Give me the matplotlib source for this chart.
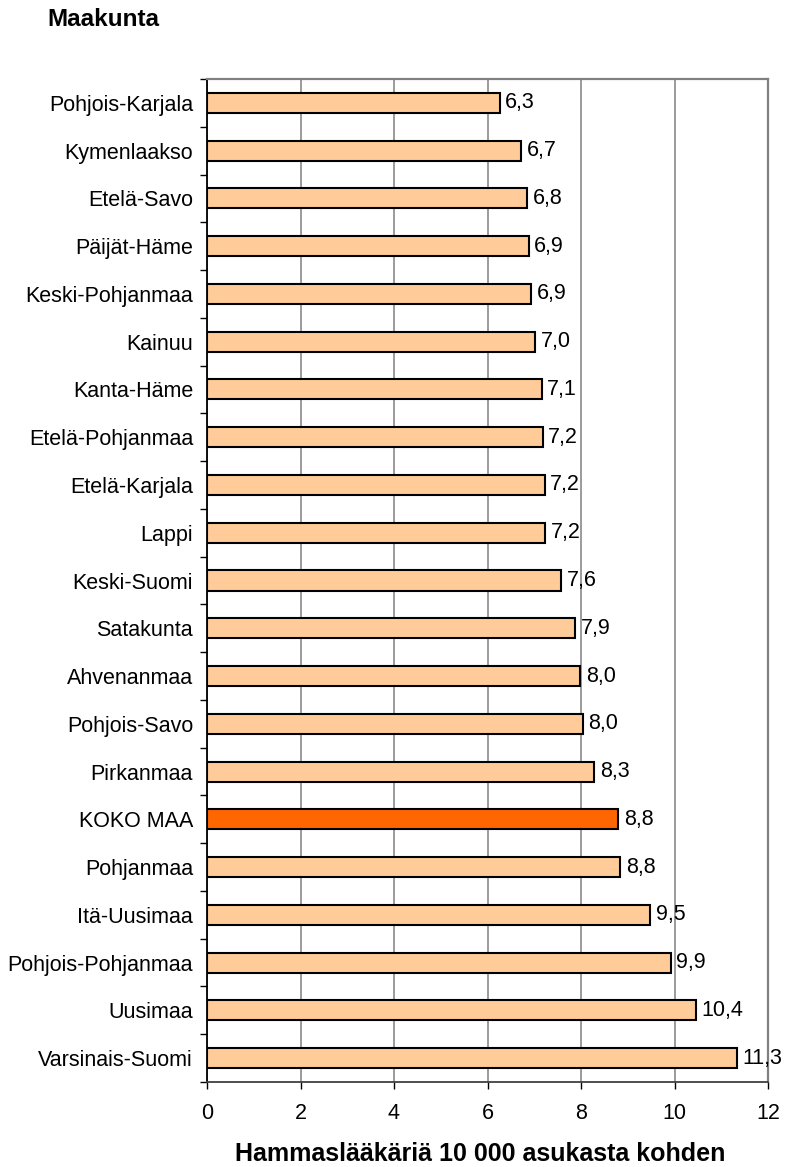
import matplotlib
matplotlib.use("Agg")
import matplotlib.pyplot as plt
from matplotlib.ticker import FixedLocator

plt.rcParams['font.family'] = ['Liberation Sans', 'DejaVu Sans']

regions = ["Pohjois-Karjala", "Kymenlaakso", "Etelä-Savo", "Päijät-Häme",
           "Keski-Pohjanmaa", "Kainuu", "Kanta-Häme", "Etelä-Pohjanmaa",
           "Etelä-Karjala", "Lappi", "Keski-Suomi", "Satakunta", "Ahvenanmaa",
           "Pohjois-Savo", "Pirkanmaa", "KOKO MAA", "Pohjanmaa", "Itä-Uusimaa",
           "Pohjois-Pohjanmaa", "Uusimaa", "Varsinais-Suomi"]
values = [6.26, 6.72, 6.85, 6.88, 6.94, 7.02, 7.16, 7.18, 7.22, 7.24, 7.58,
          7.88, 7.98, 8.04, 8.28, 8.80, 8.84, 9.48, 9.92, 10.46, 11.34]
labels = ["6,3", "6,7", "6,8", "6,9", "6,9", "7,0", "7,1", "7,2", "7,2", "7,2",
          "7,6", "7,9", "8,0", "8,0", "8,3", "8,8", "8,8", "9,5", "9,9", "10,4", "11,3"]
highlight = "KOKO MAA"
xticks = [0, 2, 4, 6, 8, 10, 12]

W, H = 787, 1167
fig = plt.figure(figsize=(W / 100, H / 100), dpi=100)
L, R, T, B = 207, 768, 79, 1082
ax = fig.add_axes([L / W, 1 - B / H, (R - L) / W, (B - T) / H])

n = len(regions)
ypos = list(range(n))
colors = ["#FF6600" if r == highlight else "#FFCC99" for r in regions]
ax.barh(ypos, values, height=0.42, color=colors, edgecolor="black",
        linewidth=1.5, zorder=3)
for y, v, lab in zip(ypos, values, labels):
    ax.text(v + 0.12, y, lab, va="center", ha="left", fontsize=15.5, zorder=5)

ax.set_xlim(0, 12)
ax.set_ylim(n - 0.5, -0.5)
ax.set_xticks(xticks)
ax.set_xticklabels([str(x) for x in xticks], fontsize=15.5)
ax.set_yticks(ypos)
ax.set_yticklabels(regions, fontsize=15.5)
ax.tick_params(axis="y", which="major", length=0, pad=10)
ax.yaxis.set_minor_locator(FixedLocator([i - 0.5 for i in range(n + 1)]))
ax.tick_params(axis="y", which="minor", length=5, width=1, direction="out")
ax.tick_params(axis="x", which="major", length=5, width=1, direction="out", pad=10)

ax.grid(axis="x", color="#808080", linewidth=1.1, zorder=0)
ax.set_axisbelow(True)
for s in ["top", "right"]:
    ax.spines[s].set_color("#808080")
    ax.spines[s].set_linewidth(1.6)
ax.spines["left"].set_color("black")
ax.spines["left"].set_linewidth(1.3)
ax.spines["bottom"].set_color("#404040")
ax.spines["bottom"].set_linewidth(1.3)

fig.text(47 / W, 1 - 20 / H, "Maakunta", fontsize=17.5, fontweight="bold",
         ha="left", va="center")
fig.text(480 / W, 1 - 1154 / H, "Hammaslääkäriä 10 000 asukasta kohden",
         fontsize=18, fontweight="bold", ha="center", va="center")

fig.savefig("out.png", dpi=100)
